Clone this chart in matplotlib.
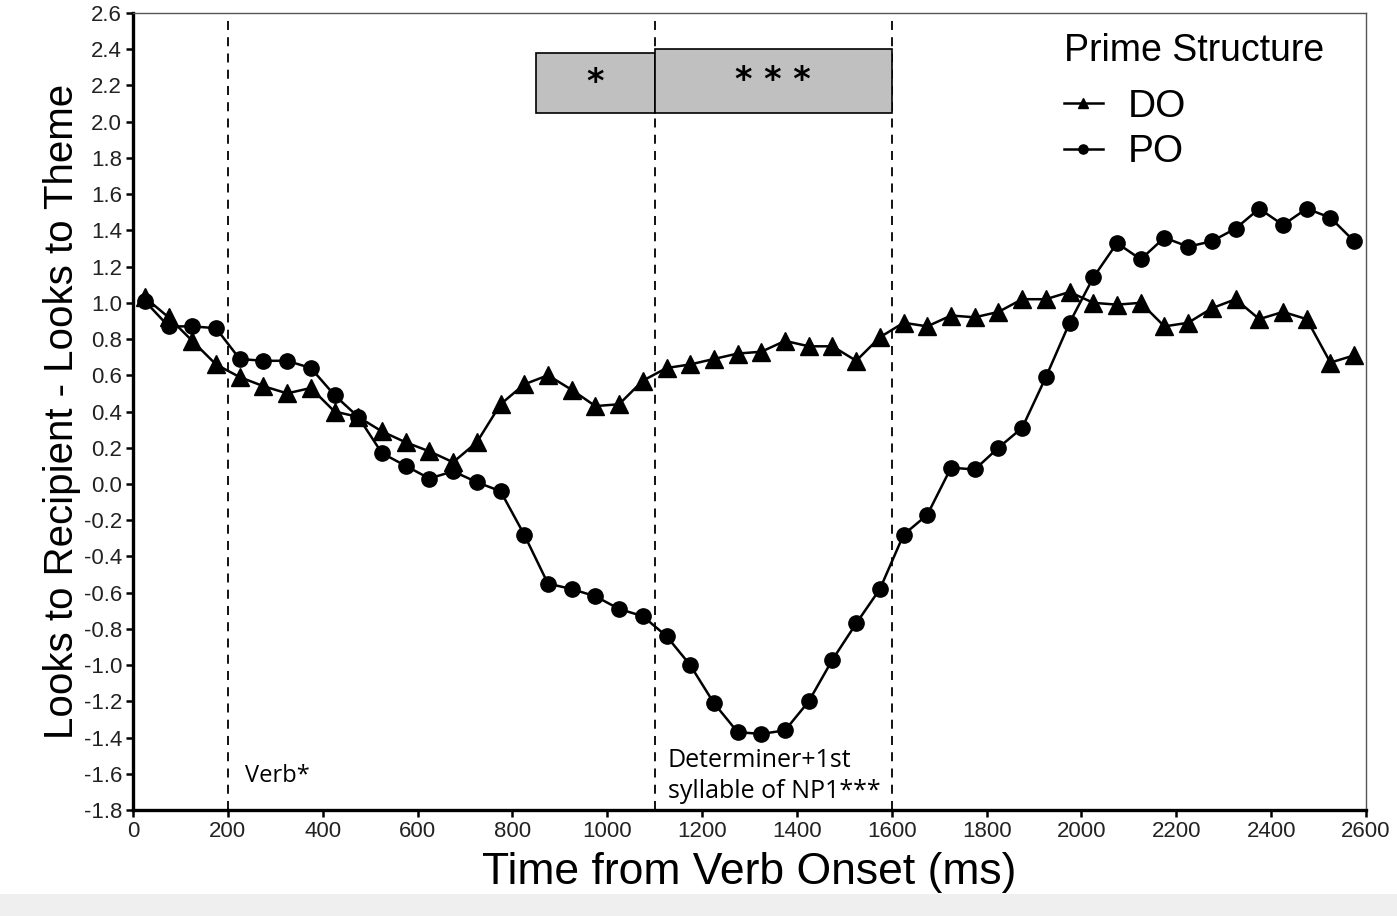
import numpy as np
import matplotlib
matplotlib.use("Agg")
import matplotlib.pyplot as plt
from matplotlib.patches import Rectangle

# time bins (ms from verb onset)
times = list(range(25, 2600, 50))

do_vals = [1.03, 0.92, 0.79, 0.66, 0.59, 0.54, 0.50, 0.53, 0.40, 0.37,
           0.29, 0.23, 0.18, 0.12, 0.23, 0.44, 0.55, 0.60, 0.52, 0.43,
           0.44, 0.57, 0.64, 0.66, 0.69, 0.72, 0.73, 0.79, 0.76, 0.76,
           0.68, 0.81, 0.89, 0.87, 0.93, 0.92, 0.95, 1.02, 1.02, 1.06,
           1.00, 0.99, 1.00, 0.87, 0.89, 0.97, 1.02, 0.91, 0.95, 0.91,
           0.67, 0.71]

po_vals = [1.01, 0.87, 0.87, 0.86, 0.69, 0.68, 0.68, 0.64, 0.49, 0.37,
           0.17, 0.10, 0.03, 0.07, 0.01, -0.04, -0.28, -0.55, -0.58, -0.62,
           -0.69, -0.73, -0.84, -1.00, -1.21, -1.37, -1.38, -1.36, -1.20, -0.97,
           -0.77, -0.58, -0.28, -0.17, 0.09, 0.08, 0.20, 0.31, 0.59, 0.89,
           1.14, 1.33, 1.24, 1.36, 1.31, 1.34, 1.41, 1.52, 1.43, 1.52,
           1.47, 1.34]

# region boundaries and significance boxes
boundaries = [200, 1100, 1600]
sig_boxes = [(850, 1100, 2.05, 2.38, "*"), (1100, 1600, 2.05, 2.40, "* * *")]

fig = plt.figure(figsize=(13.97, 9.16), dpi=100)
ax = fig.add_axes([0.0952, 0.1157, 0.8826, 0.8701])

# light grey strip at the bottom of the image
fig.patches.append(Rectangle((0, 0), 1, 0.024, transform=fig.transFigure,
                             facecolor="#efefef", edgecolor="none", zorder=0))

ax.plot(times, do_vals, color="black", lw=1.8, marker="^", ms=13,
        label="DO", zorder=4)
ax.plot(times, po_vals, color="black", lw=1.8, marker="o", ms=11,
        label="PO", zorder=4)

for b in boundaries:
    ax.axvline(b, color="black", lw=1.3, ls=(0, (5, 4)), zorder=2)

for x0, x1, y0, y1, lab in sig_boxes:
    ax.add_patch(Rectangle((x0, y0), x1 - x0, y1 - y0, facecolor="#c0c0c0",
                           edgecolor="black", lw=1.2, zorder=3))
    ax.text((x0 + x1) / 2, (y0 + y1) / 2 + 0.0, lab, ha="center", va="center",
            fontsize=24, fontweight="bold", family="DejaVu Sans", zorder=5)

ax.text(236, -1.61, "Verb*", fontsize=17, family="Open Sans",
        ha="left", va="center")
ax.text(1128, -1.61, "Determiner+1st\nsyllable of NP1***", fontsize=18,
        family="Open Sans", ha="left", va="center", linespacing=1.32)

ax.set_xlim(0, 2600)
ax.set_ylim(-1.8, 2.6)
ax.set_xticks(np.arange(0, 2601, 200))
yt = np.round(np.arange(-1.8, 2.61, 0.2), 1) + 0.0
ax.set_yticks(yt)
ax.set_yticklabels(["%.1f" % v for v in yt])

for side in ["left", "bottom"]:
    ax.spines[side].set_linewidth(2.4)
for side in ["top", "right"]:
    ax.spines[side].set_linewidth(1.0)
    ax.spines[side].set_color("#555555")

ax.tick_params(direction="out", length=5, width=1.8, labelsize=16,
               labelcolor="#222222", pad=3)
for t in ax.get_xticklabels() + ax.get_yticklabels():
    t.set_family("Liberation Sans")

ax.set_xlabel("Time from Verb Onset (ms)", fontsize=32,
              family="Liberation Sans", labelpad=7)
ax.set_ylabel("Looks to Recipient - Looks to Theme", fontsize=29,
              family="Liberation Sans", labelpad=2)

leg = ax.legend(title="Prime Structure", loc="upper right",
                bbox_to_anchor=(0.985, 1.004), frameon=False,
                prop={"family": "Liberation Sans", "size": 28},
                title_fontproperties={"family": "Liberation Sans", "size": 27},
                markerscale=0.6, handlelength=1.0, handletextpad=0.65,
                labelspacing=0.25, borderaxespad=0.2)
leg._legend_box.align = "left"
leg._legend_box.sep = 14

fig.savefig("out.png", dpi=100)
